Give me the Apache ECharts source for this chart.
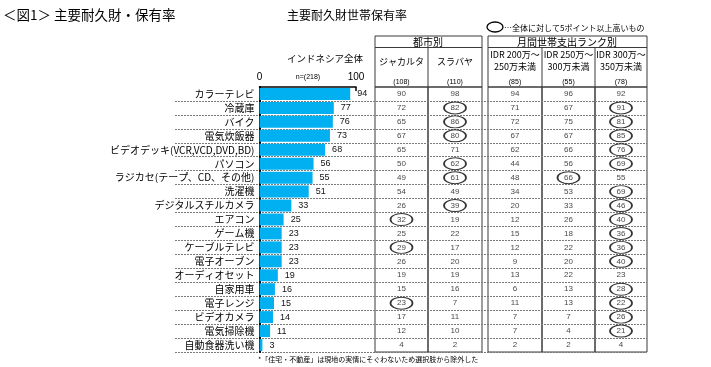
<!DOCTYPE html>
<html><head><meta charset="utf-8">
<script src="https://cdn.jsdelivr.net/npm/echarts@6/dist/echarts.min.js"></script>
<style>html,body{margin:0;padding:0;background:#fff}#c{width:711px;height:367px}</style>
</head><body><div id="c"></div>
<script>
var categories = ['カラーテレビ','冷蔵庫','バイク','電気炊飯器','ビデオデッキ(VCR,VCD,DVD,BD)','パソコン','ラジカセ(テープ、CD、その他)','洗濯機','デジタルスチルカメラ','エアコン','ゲーム機','ケーブルテレビ','電子オーブン','オーディオセット','自家用車','電子レンジ','ビデオカメラ','電気掃除機','自動食器洗い機'];
var total    = [94,77,76,73,68,56,55,51,33,25,23,23,23,19,16,15,14,11,3];
var jakarta  = [90,72,65,67,65,50,49,54,26,32,25,29,26,19,15,23,17,12,4];
var surabaya = [98,82,86,80,71,62,61,49,39,19,22,17,20,19,16,7,11,10,2];
var idr200   = [94,71,72,67,62,44,48,34,20,12,15,12,9,13,6,11,7,7,2];
var idr250   = [96,67,75,67,66,56,66,53,33,26,18,22,20,22,13,13,7,4,2];
var idr300   = [92,91,81,85,76,69,55,69,46,40,36,36,40,23,28,22,26,21,4];
var xTicks   = [0,100];
var columns  = [
  {name:'ジャカルタ', n:'(108)', values:jakarta},
  {name:'スラバヤ', n:'(110)', values:surabaya},
  {name:'IDR 200万～\n250万未満', n:'(85)', values:idr200},
  {name:'IDR 250万～\n300万未満', n:'(55)', values:idr250},
  {name:'IDR 300万～\n350万未満', n:'(78)', values:idr300}
];
var colBounds = [[375,428],[428,482],[488,542],[542,595],[595,647]];

var W=711,H=367,TOP=87,BOT=352;
var JP='"Noto Sans CJK JP", sans-serif';
var NUM='"Liberation Sans", Arial, sans-serif';

var grids=[], xAxes=[], yAxes=[], series=[];
// 0: background dotted separators
grids.push({left:175,right:W-647,top:TOP,bottom:H-BOT,show:false});
xAxes.push({gridIndex:0,type:'value',min:0,max:1,show:false});
yAxes.push({gridIndex:0,type:'category',inverse:true,data:categories,axisLine:{show:false},axisTick:{show:false},axisLabel:{show:false},
  splitLine:{show:true,interval:function(i){return i>0;},lineStyle:{color:'#7a7a7a',type:[2,1],width:1}}});
// 1: bar chart
grids.push({left:259.5,right:W-356,top:TOP,bottom:H-BOT,show:false});
xAxes.push({gridIndex:1,type:'value',position:'top',min:xTicks[0],max:xTicks[1],interval:100,
  axisLine:{show:true,lineStyle:{color:'#000',width:1.5}},
  axisTick:{show:true,inside:true,length:4,lineStyle:{color:'#000',width:1.5}},
  axisLabel:{fontSize:10,color:'#000',margin:5,fontFamily:NUM},splitLine:{show:false}});
yAxes.push({gridIndex:1,type:'category',inverse:true,data:categories,
  axisLine:{show:true,lineStyle:{color:'#000',width:2}},axisTick:{show:false},
  axisLabel:{fontSize:10,color:'#000',margin:5,fontFamily:JP}});
series.push({type:'bar',xAxisIndex:1,yAxisIndex:1,data:total,barCategoryGap:'14%',
  itemStyle:{color:'#00B0F0'},
  label:{show:true,position:'right',distance:7,fontSize:9,color:'#111',fontFamily:NUM}});
// table columns
columns.forEach(function(col,k){
  var gi=grids.length;
  grids.push({left:colBounds[k][0],right:W-colBounds[k][1],top:TOP,bottom:H-BOT,show:true,borderColor:'#3a3a3a',borderWidth:1,backgroundColor:'transparent'});
  xAxes.push({gridIndex:gi,type:'value',min:-1,max:1,show:false});
  yAxes.push({gridIndex:gi,type:'category',inverse:true,data:categories,show:false});
  series.push({type:'scatter',xAxisIndex:gi,yAxisIndex:gi,
    data:col.values.map(function(v,i){
      var hi=(v-total[i])>=5;
      return {value:[0,categories[i]],raw:v,symbol:'circle',symbolSize:[22,12],
        itemStyle:{color:'rgba(0,0,0,0)',borderColor:hi?'#000':'rgba(0,0,0,0)',borderWidth:hi?1.3:0}};
    }),
    label:{show:true,position:'inside',fontSize:8,color:'#111',fontFamily:NUM,
      formatter:function(p){return p.data.raw;}}
  });
});

var g=[];
function txt(x,y,s,fs,align,extra){
  var o={type:'text',x:x,y:y,style:{text:s,font:fs+'px '+JP,fill:'#000',textAlign:align||'left',textVerticalAlign:'middle'}};
  if(extra) for(var k in extra) o.style[k]=extra[k];
  g.push(o);
}
txt(3,15,'＜図1＞ 主要耐久財・保有率',13.5,'left');
txt(347,15,'主要耐久財世帯保有率',12,'center');
txt(325,58,'インドネシア全体',9.5,'center');
txt(308,77,'n=(218)',7,'center',{font:'7px '+NUM});
// header boxes
g.push({type:'rect',shape:{x:375,y:36,width:107,height:51},style:{fill:'none',stroke:'#3a3a3a',lineWidth:1}});
g.push({type:'rect',shape:{x:488,y:36,width:159,height:51},style:{fill:'none',stroke:'#3a3a3a',lineWidth:1}});
g.push({type:'line',shape:{x1:375,y1:47.5,x2:482,y2:47.5},style:{stroke:'#3a3a3a',lineWidth:1}});
g.push({type:'line',shape:{x1:488,y1:47.5,x2:647,y2:47.5},style:{stroke:'#3a3a3a',lineWidth:1}});
[428,542,595].forEach(function(x){g.push({type:'line',shape:{x1:x,y1:47.5,x2:x,y2:87},style:{stroke:'#3a3a3a',lineWidth:1}});});
txt(428,42,'都市別',10,'center');
txt(567,42,'月間世帯支出ランク別',10,'center');
columns.forEach(function(col,k){
  var cx=(colBounds[k][0]+colBounds[k][1])/2;
  if(k<2){ txt(cx,62,col.name,9,'center'); }
  else { var p=col.name.split('\n'); txt(cx,55,p[0],9,'center'); txt(cx,67,p[1],9,'center'); }
  txt(cx,82,col.n,7,'center',{font:'7px '+NUM});
});
// legend
g.push({type:'ellipse',shape:{cx:495,cy:27,rx:8,ry:5},style:{fill:'none',stroke:'#000',lineWidth:1.3}});
txt(504,28,'…全体に対して5ポイント以上高いもの',8,'left');
txt(258,359,'*「住宅・不動産」は現地の実情にそぐわないため選択肢から除外した',7,'left');

var chart=echarts.init(document.getElementById('c'),null,{renderer:'canvas'});
chart.setOption({animation:false,backgroundColor:'#fff',grid:grids,xAxis:xAxes,yAxis:yAxes,series:series,graphic:g});
</script></body></html>
